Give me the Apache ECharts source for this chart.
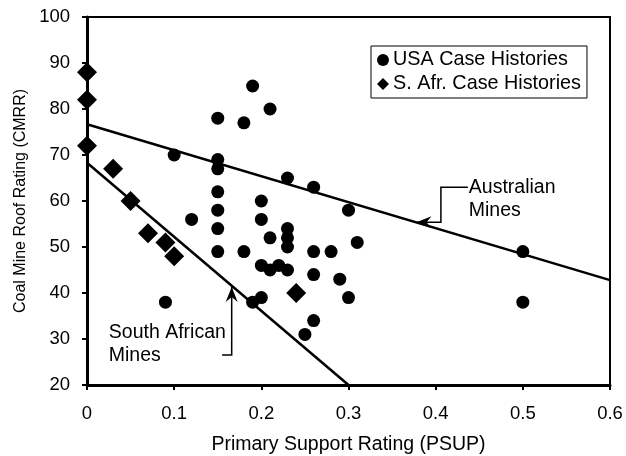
<!DOCTYPE html>
<html>
<head>
<meta charset="utf-8">
<script src="https://cdn.jsdelivr.net/npm/echarts@6/dist/echarts.min.js"></script>
<style>
html,body{margin:0;padding:0;background:#fff;}
#c{width:626px;height:456px;}
</style>
</head>
<body>
<div id="c"></div>
<script>
// ---- data ----
var usaPsup = [0.09,0.10,0.12,0.15,0.15,0.15,0.15,0.15,0.15,0.15,0.18,0.18,0.19,0.19,0.20,0.20,0.20,0.20,0.21,0.21,0.21,0.22,0.23,0.23,0.23,0.23,0.23,0.25,0.26,0.26,0.26,0.26,0.28,0.29,0.30,0.30,0.31,0.50,0.50];
var usaCmrr = [38,70,56,78,69,67,62,58,54,49,77,49,85,38,60,56,46,39,80,52,45,46,65,54,52,50,45,31,63,49,44,34,49,43,58,39,51,49,38];
var safPsup = [0,0,0,0.03,0.05,0.07,0.09,0.10,0.24];
var safCmrr = [88,82,72,67,60,53,51,48,40];
var australianLinePsup = [0, 0.6];
var australianLineCmrr = [76.7, 42.8];
var southAfricanLinePsup = [0, 0.30];
var southAfricanLineCmrr = [68.3, 20];
var xTicks = [0,0.1,0.2,0.3,0.4,0.5,0.6];
var yTicks = [20,30,40,50,60,70,80,90,100];
var seriesNames = ['USA Case Histories','S. Afr. Case Histories'];
var annotations = {
  australian: {text:['Australian','Mines'], textAt:[0.438,63.0], path:[[0.437,63.0],[0.406,63.0],[0.406,55.4],[0.378,55.4]]},
  southAfrican: {text:['South African','Mines'], textAt:[0.025,31.3], path:[[0.155,26.5],[0.166,26.5],[0.166,41.3]]}
};

function zip(a,b){return a.map(function(v,i){return [v,b[i]];});}

var FONT = '"Liberation Sans", Arial, sans-serif';
var chart = echarts.init(document.getElementById('c'), null, {renderer:'canvas'});
var option = {
  backgroundColor:'#fff',
  animation:false,
  textStyle:{fontFamily:FONT, color:'#000'},
  grid:{left:87, right:16, top:17, bottom:71, containLabel:false, outerBoundsMode:'none',
    show:true, borderColor:'#000', borderWidth:2, backgroundColor:'transparent'},
  legend:{
    orient:'vertical', left:371, top:46,
    data:[{name:seriesNames[0], icon:'circle'},{name:seriesNames[1], icon:'diamond'}],
    itemWidth:12, itemHeight:12, itemGap:4,
    padding:[4,6,4,6],
    borderColor:'#000', borderWidth:1, backgroundColor:'#fff',
    textStyle:{fontFamily:FONT, fontSize:19.8, lineHeight:20, color:'#000', padding:[0,0,0,-1]}
  },
  xAxis:{
    type:'value', min:0, max:0.6, interval:0.1,
    name:'Primary Support Rating (PSUP)', nameLocation:'middle', nameGap:50,
    nameTextStyle:{fontFamily:FONT, fontSize:19.5, color:'#000'},
    axisLine:{show:true, onZero:false, lineStyle:{color:'#000', width:3}},
    axisTick:{show:true, length:5, lineStyle:{color:'#000', width:2}},
    axisLabel:{fontFamily:FONT, fontSize:18.5, color:'#000', margin:19,
      formatter:function(v){ var r=Math.round(v*10)/10; return xTicks.indexOf(r)>=0 ? String(r) : ''; }},
    splitLine:{show:false}
  },
  yAxis:{
    type:'value', min:20, max:100, interval:10,
    name:'Coal Mine Roof Rating (CMRR)', nameLocation:'middle', nameGap:57, nameRotate:90,
    nameTextStyle:{fontFamily:FONT, fontSize:16, color:'#000'},
    axisLine:{show:true, onZero:false, lineStyle:{color:'#000', width:3}},
    axisTick:{show:true, length:5, lineStyle:{color:'#000', width:2}},
    axisLabel:{fontFamily:FONT, fontSize:18.5, color:'#000', margin:17,
      formatter:function(v){ return yTicks.indexOf(v)>=0 ? String(v) : ''; }},
    splitLine:{show:false}
  },
  series:[
    {name:'Australian Mines line', type:'line', data:zip(australianLinePsup, australianLineCmrr), symbol:'none',
      lineStyle:{color:'#000', width:2.5}, z:2, silent:true},
    {name:'South African Mines line', type:'line', data:zip(southAfricanLinePsup, southAfricanLineCmrr), symbol:'none',
      lineStyle:{color:'#000', width:2.5}, z:2, silent:true},
    {name:seriesNames[0], type:'scatter', data:zip(usaPsup, usaCmrr), symbol:'circle', symbolSize:13,
      itemStyle:{color:'#000', opacity:1}, clip:false, z:3},
    {name:seriesNames[1], type:'scatter', data:zip(safPsup, safCmrr), symbol:'diamond', symbolSize:20,
      itemStyle:{color:'#000', opacity:1}, clip:false, z:3}
  ]
};
chart.setOption(option);

function px(p){ return chart.convertToPixel({gridIndex:0}, p); }
function arrowHead(tip, dir){
  var L=15, W=6, N=10;
  var bx=-dir[0], by=-dir[1]; var nx=-dir[1], ny=dir[0];
  return [tip,
    [tip[0]+bx*L+nx*W, tip[1]+by*L+ny*W],
    [tip[0]+bx*N, tip[1]+by*N],
    [tip[0]+bx*L-nx*W, tip[1]+by*L-ny*W]];
}
var g = [];
[annotations.australian, annotations.southAfrican].forEach(function(a){
  var pts = a.path.map(px);
  g.push({type:'polyline', shape:{points:pts}, style:{stroke:'#000', lineWidth:1.5, fill:null}, z:10});
  var t = pts[pts.length-1], b = pts[pts.length-2];
  var dx=t[0]-b[0], dy=t[1]-b[1], d=Math.sqrt(dx*dx+dy*dy);
  g.push({type:'polygon', shape:{points:arrowHead(t,[dx/d,dy/d])}, style:{fill:'#000'}, z:10});
  var tp = px(a.textAt);
  g.push({type:'text', x:tp[0], y:tp[1]-11.5, style:{text:a.text.join('\n'), font:'19.5px '+FONT, fill:'#000', lineHeight:23, verticalAlign:'top', align:'left'}, z:10});
});
chart.setOption({graphic:g});
</script>
</body>
</html>
